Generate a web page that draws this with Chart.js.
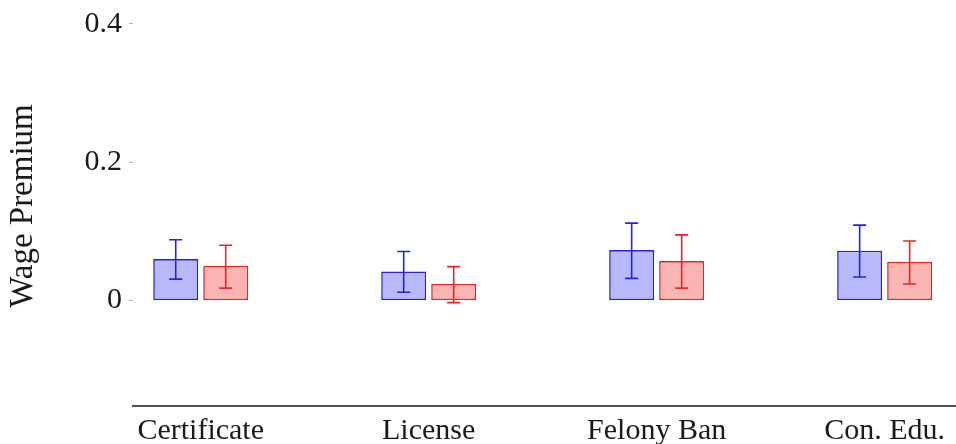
<!DOCTYPE html>
<html>
<head>
<meta charset="utf-8">
<script src="https://cdn.jsdelivr.net/npm/chart.js@4/dist/chart.umd.min.js"></script>
<style>
  html, body { margin: 0; padding: 0; background: #fff; }
  canvas { display: block; }
</style>
</head>
<body>
<canvas id="c" width="956" height="444"></canvas>
<script>
// Categories along the x axis
const categories = ['Certificate', 'License', 'Felony Ban', 'Con. Edu.'];

// Blue series: point estimates and confidence bounds
const blueValues = [0.060, 0.042, 0.073, 0.072];
const blueLow    = [0.031, 0.012, 0.032, 0.034];
const blueHigh   = [0.088, 0.071, 0.112, 0.109];

// Red series: point estimates and confidence bounds
const redValues = [0.050, 0.024, 0.057, 0.056];
const redLow    = [0.018, -0.003, 0.018, 0.024];
const redHigh   = [0.080, 0.049, 0.095, 0.086];

// Y tick values
const yTicks = [0, 0.2, 0.4];

const serif = "'Liberation Serif', 'Times New Roman', serif";

// Draws vertical error bars with caps over each bar
const errorBars = {
  id: 'errorBars',
  afterDatasetsDraw(chart) {
    const ctx = chart.ctx;
    const y = chart.scales.y;
    chart.data.datasets.forEach((ds, di) => {
      const meta = chart.getDatasetMeta(di);
      ctx.save();
      ctx.strokeStyle = ds.borderColor;
      ctx.lineWidth = 1.6;
      meta.data.forEach((bar, i) => {
        const top = y.getPixelForValue(ds.errHigh[i]);
        const bot = y.getPixelForValue(ds.errLow[i]);
        const cap = 6.5;
        ctx.beginPath();
        ctx.moveTo(bar.x, top); ctx.lineTo(bar.x, bot);
        ctx.moveTo(bar.x - cap, top); ctx.lineTo(bar.x + cap, top);
        ctx.moveTo(bar.x - cap, bot); ctx.lineTo(bar.x + cap, bot);
        ctx.stroke();
      });
      ctx.restore();
    });
  }
};

new Chart(document.getElementById('c'), {
  type: 'bar',
  data: {
    datasets: [
      {
        label: 'Blue',
        data: categories.map((_, i) => ({ x: i + 1, y: blueValues[i] })),
        errLow: blueLow,
        errHigh: blueHigh,
        backgroundColor: 'rgb(184,184,250)',
        borderColor: 'rgb(36,36,224)',
        borderWidth: 1.6,
        borderSkipped: false
      },
      {
        label: 'Red',
        data: categories.map((_, i) => ({ x: i + 1, y: redValues[i] })),
        errLow: redLow,
        errHigh: redHigh,
        backgroundColor: 'rgb(250,180,180)',
        borderColor: 'rgb(228,40,40)',
        borderWidth: 1.6,
        borderSkipped: false
      }
    ]
  },
  options: {
    responsive: false,
    animation: false,
    devicePixelRatio: 1,
    categoryPercentage: 0.4386,
    barPercentage: 0.9,
    layout: { padding: { top: 6, right: 0, bottom: 0, left: 0 } },
    plugins: {
      legend: { display: false },
      tooltip: { enabled: false }
    },
    scales: {
      x: {
        type: 'linear',
        position: 'bottom',
        offset: false,
        min: 0.703,
        max: 4.313,
        afterBuildTicks: (s) => { s.ticks = categories.map((_, i) => ({ value: i + 1 })); },
        afterFit: (s) => { s.height = 38; s.paddingLeft = 0; s.paddingRight = 0; },
        grid: { display: false, drawTicks: false },
        border: { display: true, color: '#555', width: 2 },
        ticks: {
          autoSkip: false,
          maxRotation: 0,
          padding: 7,
          color: '#1a1a1a',
          font: { family: serif, size: 30 },
          callback: (v, i) => categories[i]
        }
      },
      y: {
        min: -0.1525,
        max: 0.4259,
        afterBuildTicks: (s) => { s.ticks = yTicks.map(v => ({ value: v })); },
        afterFit: (s) => { s.width = 133; s.paddingTop = 0; s.paddingBottom = 0; },
        grid: { drawOnChartArea: false, drawTicks: true, tickLength: 4, color: '#bbb' },
        border: { display: false },
        ticks: {
          padding: 7,
          color: '#1a1a1a',
          font: { family: serif, size: 30 },
          callback: (v) => (v === 0 ? '0' : v.toFixed(1))
        },
        title: {
          display: true,
          text: 'Wage Premium',
          color: '#1a1a1a',
          font: { family: serif, size: 33 },
          padding: { top: 4, bottom: 4 }
        }
      }
    }
  },
  plugins: [errorBars]
});
</script>
</body>
</html>
